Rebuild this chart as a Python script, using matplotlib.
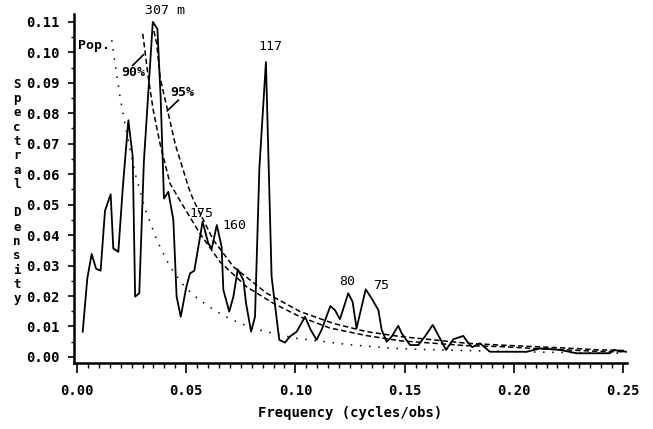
import numpy as np
import matplotlib
matplotlib.use('Agg')
import matplotlib.pyplot as plt
from matplotlib.ticker import MultipleLocator

# spectral density estimate
freq = [0.0026, 0.0047, 0.0067, 0.0087, 0.0108, 0.0128, 0.0154, 0.0166, 0.0189, 0.0210,
        0.0235, 0.0255, 0.0266, 0.0285, 0.0306, 0.0347, 0.0368, 0.0383, 0.0398, 0.0418,
        0.0441, 0.0456, 0.0475, 0.0499, 0.0517, 0.0537, 0.0575, 0.0601, 0.0617, 0.0640,
        0.0662, 0.0670, 0.0697, 0.0716, 0.0736, 0.0762, 0.0774, 0.0797, 0.0815, 0.0835,
        0.0865, 0.0891, 0.0926, 0.0952, 0.0975, 0.1006, 0.1044, 0.1070, 0.1097, 0.1120,
        0.1160, 0.1181, 0.1204, 0.1242, 0.1262, 0.1280, 0.1322, 0.1349, 0.1380, 0.1395,
        0.1418, 0.1441, 0.1471, 0.1487, 0.1525, 0.1563, 0.1593, 0.1629, 0.1650, 0.1690,
        0.1723, 0.1769, 0.1787, 0.1810, 0.1845, 0.1891, 0.2060, 0.2120, 0.2212, 0.2288,
        0.2440, 0.2456, 0.2514]
density = [0.0083, 0.0258, 0.0338, 0.0290, 0.0283, 0.0480, 0.0534, 0.0356, 0.0345, 0.0560,
           0.0777, 0.0657, 0.0198, 0.0209, 0.0640, 0.1100, 0.1077, 0.0850, 0.0520, 0.0542,
           0.0450, 0.0198, 0.0132, 0.0225, 0.0274, 0.0283, 0.0444, 0.0373, 0.0356, 0.0433,
           0.0362, 0.0220, 0.0149, 0.0198, 0.0288, 0.0252, 0.0176, 0.0083, 0.0132, 0.0620,
           0.0968, 0.0263, 0.0056, 0.0047, 0.0067, 0.0083, 0.0132, 0.0089, 0.0056, 0.0089,
           0.0167, 0.0154, 0.0124, 0.0209, 0.0181, 0.0094, 0.0222, 0.0192, 0.0154, 0.0089,
           0.0050, 0.0067, 0.0102, 0.0077, 0.0039, 0.0039, 0.0067, 0.0105, 0.0077, 0.0023,
           0.0058, 0.0069, 0.0050, 0.0032, 0.0045, 0.0017, 0.0017, 0.0028, 0.0023, 0.0012,
           0.0012, 0.0023, 0.0017]

# 95% and 90% significance curves
f95 = [0.0352, 0.0365, 0.0380, 0.0411, 0.0449, 0.0510, 0.0533, 0.0624, 0.0716, 0.0869,
       0.1021, 0.1174, 0.1326, 0.1479, 0.1631, 0.1784, 0.1937, 0.2089, 0.2242, 0.2395, 0.2509]
c95 = [0.1070, 0.1028, 0.0919, 0.0821, 0.0700, 0.0558, 0.0515, 0.0384, 0.0296, 0.0209,
       0.0149, 0.0110, 0.0083, 0.0067, 0.0056, 0.0045, 0.0039, 0.0034, 0.0029, 0.0023, 0.0021]
f90 = [0.0301, 0.0326, 0.0349, 0.0380, 0.0426, 0.0479, 0.0563, 0.0655, 0.0777, 0.0899,
       0.1021, 0.1158, 0.1326, 0.1479, 0.1631, 0.1784, 0.1937, 0.2089, 0.2242, 0.2395, 0.2509]
c90 = [0.1061, 0.0919, 0.0810, 0.0700, 0.0569, 0.0504, 0.0405, 0.0312, 0.0230, 0.0176,
       0.0132, 0.0095, 0.0070, 0.0053, 0.0045, 0.0037, 0.0034, 0.0028, 0.0023, 0.0018, 0.0017]

# population spectrum
fpop = [0.0159, 0.0174, 0.0197, 0.0228, 0.0266, 0.0311, 0.0365, 0.0426, 0.0487, 0.0533,
        0.0594, 0.0640, 0.0700, 0.0800, 0.0930, 0.1006, 0.1250, 0.1456, 0.1563, 0.2000, 0.2500]
cpop = [0.1040, 0.0963, 0.0853, 0.0733, 0.0602, 0.0488, 0.0384, 0.0296, 0.0236, 0.0203,
        0.0170, 0.0149, 0.0125, 0.0095, 0.0072, 0.0061, 0.0040, 0.0028, 0.0025, 0.0017, 0.0012]

mono = 'DejaVu Sans Mono'

fig = plt.figure(figsize=(6.53, 4.29), dpi=100)
ax = fig.add_axes([0.1133, 0.1538, 0.8467, 0.8130])

ax.plot(freq, density, color='black', lw=1.3)
ax.plot(f95, c95, color='black', lw=1.1, ls=(0, (3.5, 2)))
ax.plot(f90, c90, color='black', lw=1.1, ls=(0, (3.5, 2)))
ax.plot(fpop, cpop, color='black', lw=1.1, ls=(0, (1, 5)))

ax.set_xlim(-0.0014, 0.2518)
ax.set_ylim(-0.002, 0.1125)

ax.xaxis.set_major_locator(MultipleLocator(0.05))
ax.xaxis.set_minor_locator(MultipleLocator(0.005))
ax.yaxis.set_major_locator(MultipleLocator(0.01))
ax.yaxis.set_minor_locator(MultipleLocator(0.005))
ax.xaxis.set_major_formatter(lambda v, p: f'{v:.2f}')
ax.yaxis.set_major_formatter(lambda v, p: f'{v:.2f}')

for s in ['top', 'right']:
    ax.spines[s].set_visible(False)
for s in ['left', 'bottom']:
    ax.spines[s].set_linewidth(1.8)

ax.tick_params(axis='x', which='major', length=7, width=1.2, pad=8)
ax.tick_params(axis='x', which='minor', length=3.5, width=1.0)
ax.tick_params(axis='y', which='major', length=4, width=1.2, pad=6)
ax.tick_params(axis='y', which='minor', length=2.5, width=1.0)
for lab in ax.get_xticklabels() + ax.get_yticklabels():
    lab.set_fontfamily(mono)
    lab.set_fontweight('bold')
    lab.set_fontsize(10)

ax.set_xlabel('Frequency (cycles/obs)', family=mono, fontweight='bold', fontsize=10, labelpad=6)

# stacked vertical y label
ylab = '\n'.join(list('Spectral')) + '\n\n' + '\n'.join(list('Density'))
fig.text(0.026, 1 - 191.5 / 429, ylab, family=mono, fontweight='bold', fontsize=9,
         ha='center', va='center', linespacing=1.13)

# peak labels
tk = dict(family=mono, fontsize=9.5, ha='center', va='center')
ax.text(0.0311, 0.1138, '307 m', family=mono, fontsize=9.5, ha='left', va='center', clip_on=False)
ax.text(0.0884, 0.1020, '117', **tk)
ax.text(0.0568, 0.0472, '175', **tk)
ax.text(0.0719, 0.0430, '160', **tk)
ax.text(0.1236, 0.0246, '80', **tk)
ax.text(0.1392, 0.0236, '75', **tk)
ax.text(0.0256, 0.0934, '90%', fontweight='bold', **tk)
ax.text(0.0481, 0.0869, '95%', fontweight='bold', **tk)
ax.text(0.0005, 0.1023, 'Pop.', family=mono, fontsize=9.5, fontweight='bold', ha='left', va='center')
ax.plot([0.0255, 0.0304], [0.0957, 0.0992], color='black', lw=1.2)
ax.plot([0.0464, 0.0413], [0.0843, 0.0808], color='black', lw=1.2)

fig.savefig('out.png', dpi=100)
